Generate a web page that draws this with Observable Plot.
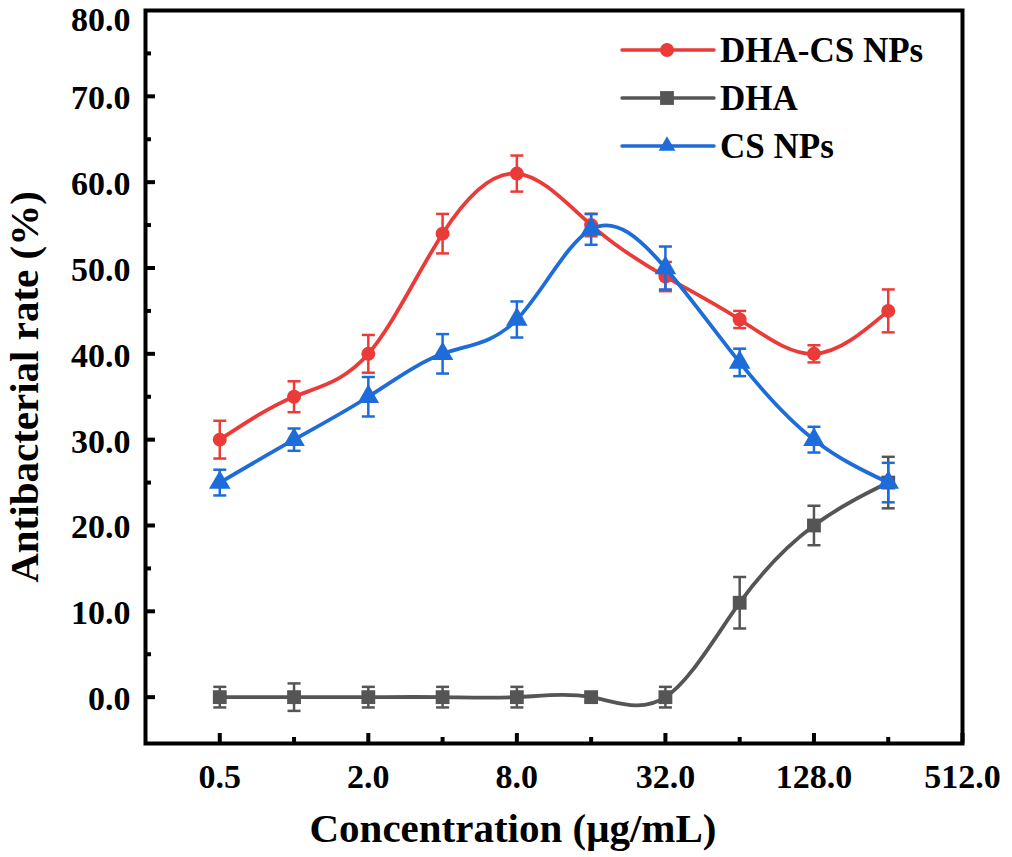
<!DOCTYPE html>
<html>
<head>
<meta charset="utf-8">
<script src="https://cdn.jsdelivr.net/npm/d3@7"></script>
<script src="https://cdn.jsdelivr.net/npm/@observablehq/plot@0.6"></script>
<style>
  html, body { margin: 0; padding: 0; background: #fff; }
  #wrap { position: relative; width: 1012px; height: 857px; font-family: "Liberation Serif", "Times New Roman", serif; font-weight: bold; }
  #legend { position: absolute; left: 620px; top: 26px; }
  .lrow { display: flex; align-items: center; height: 48px; }
  .lrow span { font-size: 35px; color: #000; margin-left: 4px; line-height: 1; }
</style>
</head>
<body>
<div id="wrap"><div id="chart"></div><div id="legend"></div></div>
<script>
// ---- data ----
const concentrations = [0.5, 1, 2, 4, 8, 16, 32, 64, 128, 256];
const seriesNames = ["DHA-CS NPs", "DHA", "CS NPs"];
const seriesColors = ["#ea3b38", "#555555", "#1d6cd9"];
const seriesSymbols = ["circle", "square", "triangle"];
const dhacsMean = [30, 35, 40, 54, 61, 55, 49, 44, 40, 45];
const dhacsErr  = [2.2, 1.8, 2.2, 2.3, 2.1, 1.3, 1.7, 1.0, 1.0, 2.5];
const dhaMean   = [0, 0, 0, 0, 0, 0, 0, 11, 20, 25];
const dhaErr    = [1.2, 1.6, 1.2, 1.2, 1.2, 0.5, 1.2, 3.0, 2.3, 3.0];
const csMean    = [25, 30, 35, 40, 44, 54.5, 50, 39, 30, 25];
const csErr     = [1.5, 1.3, 2.3, 2.3, 2.1, 1.8, 2.5, 1.6, 1.5, 2.3];
const xTicks = [0.5, 2, 8, 32, 128, 512];
const xMinorTicks = [1, 4, 16, 64, 256];
const yTicks = [0, 10, 20, 30, 40, 50, 60, 70];
const yTopTick = [80];
const yMinorTicks = [5, 15, 25, 35, 45, 55, 65, 75];

const means = [dhacsMean, dhaMean, csMean];
const errs = [dhacsErr, dhaErr, csErr];
const rows = [];
seriesNames.forEach((s, i) => {
  concentrations.forEach((c, j) => {
    rows.push({series: s, x: c, y: means[i][j], e: errs[i][j]});
  });
});
// draw order: DHA, DHA-CS NPs, CS NPs
const drawOrder = ["DHA", "DHA-CS NPs", "CS NPs"];
const symR = {circle: 7, square: 7.8, triangle: 8};

const capSymbol = {
  draw(ctx, size) {
    const r = Math.sqrt(size / Math.PI);
    ctx.moveTo(-r, 0);
    ctx.lineTo(r, 0);
  }
};

const marks = [];
for (const s of drawOrder) {
  const d = rows.filter(r => r.series === s);
  const col = seriesColors[seriesNames.indexOf(s)];
  const sym = seriesSymbols[seriesNames.indexOf(s)];
  marks.push(
    Plot.line(d, {x: "x", y: "y", stroke: col, strokeWidth: 3.8, curve: "natural"}),
    Plot.ruleX(d, {x: "x", y1: r => r.y - r.e, y2: r => r.y + r.e, stroke: col, strokeWidth: 2.5}),
    Plot.dot(d, {x: "x", y: r => r.y + r.e, symbol: capSymbol, r: 6.5, stroke: col, strokeWidth: 2.5, fill: "none"}),
    Plot.dot(d, {x: "x", y: r => r.y - r.e, symbol: capSymbol, r: 6.5, stroke: col, strokeWidth: 2.5, fill: "none"}),
    Plot.dot(d, {x: "x", y: "y", symbol: sym, r: symR[sym], fill: col, stroke: "none"})
  );
}

const fmt = d => d.toFixed(1);
const chart = Plot.plot({
  width: 1012,
  height: 857,
  marginLeft: 145,
  marginRight: 50,
  marginTop: 10,
  marginBottom: 114,
  style: {fontFamily: "Liberation Serif, Times New Roman, serif", fontWeight: "bold", color: "#000", background: "#fff"},
  x: {type: "log", base: 2, domain: [0.25, 512]},
  y: {domain: [-5.4, 80]},
  marks: [
    ...marks,
    Plot.axisX({ticks: xTicks, tickSize: -10, tickPadding: 30, tickFormat: fmt, fontSize: 34, strokeWidth: 4, label: null}),
    Plot.axisX({ticks: xMinorTicks, tickSize: -6, strokeWidth: 4, text: null, label: null}),
    Plot.axisY({ticks: yTicks, tickSize: -10, strokeWidth: 4, text: null, label: null}),
    Plot.axisY({ticks: yTicks, tickSize: 0, tickPadding: 15, tickFormat: fmt, fontSize: 34, dy: 2, label: null}),
    Plot.axisY({ticks: yTopTick, tickSize: 0, tickPadding: 15, tickFormat: fmt, fontSize: 34, dy: 10, label: null}),
    Plot.axisY({ticks: yMinorTicks, tickSize: -6, strokeWidth: 4, text: null, label: null}),
    Plot.frame({stroke: "#000", strokeWidth: 4}),
    Plot.text(["Concentration (μg/mL)"], {frameAnchor: "bottom", textAnchor: "middle", dx: -41, dy: 98, fontSize: 41, fontWeight: "bold", fill: "#000"}),
    Plot.text(["Antibacterial rate (%)"], {frameAnchor: "left", textAnchor: "middle", rotate: -90, dx: -121, dy: 10, fontSize: 41, fontWeight: "bold", fill: "#000"})
  ]
});
document.getElementById("chart").appendChild(chart);

// ---- legend ----
const legend = document.getElementById("legend");
const symPath = {circle: d3.symbolCircle, square: d3.symbolSquare, triangle: d3.symbolTriangle2};
seriesNames.forEach((s, i) => {
  const row = document.createElement("div");
  row.className = "lrow";
  const svg = d3.create("svg").attr("width", 96).attr("height", 24);
  svg.append("line").attr("x1", 2).attr("x2", 94).attr("y1", 12).attr("y2", 12)
    .attr("stroke", seriesColors[i]).attr("stroke-width", 3.5).attr("stroke-linecap", "round");
  const r = symR[seriesSymbols[i]];
  svg.append("path").attr("transform", "translate(47,12)")
    .attr("d", d3.symbol(symPath[seriesSymbols[i]], Math.PI * r * r)())
    .attr("fill", seriesColors[i]);
  row.appendChild(svg.node());
  const t = document.createElement("span");
  t.textContent = s;
  row.appendChild(t);
  legend.appendChild(row);
});
</script>
</body>
</html>
